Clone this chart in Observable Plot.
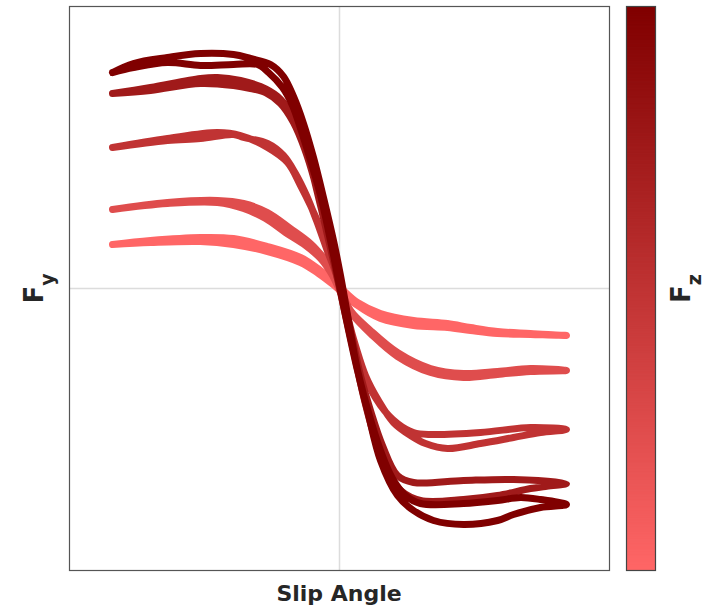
<!DOCTYPE html>
<html><head><meta charset="utf-8">
<script src="https://cdn.jsdelivr.net/npm/d3@7"></script>
<script src="https://cdn.jsdelivr.net/npm/@observablehq/plot@0.6"></script>
<style>
body{margin:0;background:#fff}
#wrap{position:relative;width:705px;height:611px}
#wrap svg{position:absolute;top:0}
</style>
</head><body><div id="wrap"></div>
<script>
// Vertical loads (N) and the hysteresis loop of each: slip angle (deg) and lateral force (N)
const loads = [2000, 4000, 6000, 8000, 10000];

const slip2000 = [-11.35,-9.45,-6.95,-5.3,-3.6,-1.95,-0.95,-0.3,0.2,0.9,2.05,3.7,5.4,6.55,7.9,9.55,11.35,
  9.55,7.9,6.55,5.4,3.7,2.05,0.9,0.2,-0.45,-1.05,-1.95,-3.6,-5.3,-6.95,-9.45,-11.35];
const fy2000 = [880,960,1020,1000,840,620,360,160,-40,-280,-500,-640,-700,-780,-860,-900,-940,
  -920,-900,-840,-780,-740,-600,-340,-100,120,300,520,740,880,940,920,880];

const slip4000 = [-11.35,-8.6,-6.1,-4.8,-3.6,-2.45,-1.45,-0.8,-0.3,0.05,0.55,1.55,2.9,4.55,6.2,7.9,9.55,11.35,
  9.55,7.9,6.2,4.55,2.9,1.65,0.65,0.05,-0.35,-0.95,-1.7,-2.7,-3.7,-4.8,-6.1,-8.6,-11.35];
const fy4000 = [1580,1720,1760,1700,1520,1200,900,620,360,0,-440,-840,-1280,-1600,-1700,-1660,-1600,-1640,
  -1660,-1720,-1780,-1680,-1360,-940,-520,-80,260,600,860,1120,1400,1600,1720,1700,1580];

const slip6000 = [-11.35,-8.6,-6.1,-4.95,-3.6,-2.6,-1.95,-1.45,-0.95,-0.45,0.05,0.65,1.2,2.05,2.9,3.7,4.55,7.05,9.55,11.35,
  10.05,8.7,7.05,5.4,4.3,3.55,2.7,1.95,1.3,0.8,0.3,-0.15,-0.65,-1.15,-1.65,-2.2,-2.8,-3.6,-4.8,-5.3,-6.95,-8.6,-11.35];
const fy6000 = [2820,3000,3120,3060,2820,2520,2060,1660,1200,660,0,-940,-1700,-2340,-2700,-2880,-2920,-2880,-2780,-2820,
  -2880,-2980,-3100,-3200,-3100,-2940,-2680,-2240,-1740,-1140,-440,260,800,1360,1860,2300,2660,2900,3020,3080,3000,2960,2820];

const slip8000 = [-11.35,-9.45,-6.95,-6.1,-4.95,-3.95,-3.1,-2.45,-1.95,-1.45,-0.95,-0.45,0.05,0.55,1.05,1.55,2.15,2.9,3.7,6.2,8.7,11.35,
  10.3,9.55,7.9,6.2,4.05,3.05,2.35,1.8,1.25,0.75,0.25,-0.25,-0.75,-1.25,-1.75,-2.3,-2.95,-3.7,-4.45,-5.3,-6.95,-9.45,-11.35];
const fy8000 = [3900,4020,4200,4220,4160,4040,3840,3520,3060,2460,1660,860,0,-840,-1740,-2440,-3140,-3740,-3880,-3840,-3820,-3900,
  -3960,-4000,-4140,-4220,-4240,-4040,-3640,-3040,-2240,-1340,-440,460,1320,2160,2800,3320,3700,3920,4000,4060,4100,3960,3900];

const slip10000 = [-11.35,-10.3,-8.6,-6.95,-5.3,-4.45,-3.45,-2.8,-2.3,-1.8,-1.3,-0.8,-0.3,0.05,0.45,0.85,1.4,2.05,2.9,3.7,4.7,6.2,7.9,8.7,10.05,11.35,
  10.05,9.05,7.9,6.2,4.05,3.3,2.65,2.05,1.45,0.9,0.35,-0.05,-0.45,-0.95,-1.45,-1.95,-2.35,-2.85,-3.55,-4.1,-5.3,-6.95,-8.6,-10.3,-11.35];
const fy10000 = [4320,4500,4620,4700,4680,4600,4480,4240,3840,3300,2620,1820,960,260,-640,-1540,-2440,-3440,-4140,-4440,-4640,-4720,-4640,-4520,-4380,-4320,
  -4220,-4180,-4240,-4300,-4300,-4140,-3800,-3240,-2480,-1640,-640,160,960,1860,2560,3200,3660,4020,4320,4480,4480,4460,4520,4420,4320];

const slips = [slip2000, slip4000, slip6000, slip8000, slip10000];
const fys = [fy2000, fy4000, fy6000, fy8000, fy10000];

const rows = loads.flatMap((fz, k) => slips[k].map((s, i) => ({fz, slip: s, fy: fys[k][i]})));

const colorOpts = {type: "linear", domain: [2000, 10000], range: ["#ff6666", "#800000"]};

const W = 705, H = 611, ML = 69, MR = 96, MT = 6, MB = 41;

const main = Plot.plot({
  width: W, height: H, marginLeft: ML, marginRight: MR, marginTop: MT, marginBottom: MB,
  x: {domain: [-13.5, 13.5], axis: null},
  y: {domain: [-5640, 5640], axis: null},
  color: colorOpts,
  marks: [
    Plot.ruleX([0], {stroke: "#dcdcdc", strokeWidth: 1.5}),
    Plot.ruleY([0], {stroke: "#dcdcdc", strokeWidth: 1.5}),
    Plot.line(rows, {x: "slip", y: "fy", z: "fz", stroke: "fz", strokeWidth: 7,
      curve: "catmull-rom", strokeLinecap: "round", strokeLinejoin: "round"}),
    Plot.frame({stroke: "#555", strokeWidth: 1.2})
  ]
});
main.style.left = "0px";

const svg = d3.select(main);
const labColor = "#262626";
svg.append("text")
  .attr("x", ML + (W - ML - MR) / 2).attr("y", 601)
  .attr("text-anchor", "middle").attr("fill", labColor)
  .style("font", "bold 22px 'DejaVu Sans'")
  .text("Slip Angle");

const fyLab = svg.append("text")
  .attr("transform", "translate(43,288.5) rotate(-90)")
  .attr("text-anchor", "middle").attr("fill", labColor)
  .style("font", "bold 26px 'DejaVu Sans'");
fyLab.append("tspan").text("F");
fyLab.append("tspan").attr("dy", 11).style("font-size", "19px").text("y");

// colour bar
const step = 20;
const bands = d3.range(2000, 10000, step);
const bar = Plot.plot({
  width: 90, height: H, marginLeft: 11, marginRight: 50, marginTop: MT, marginBottom: MB,
  x: {domain: [0, 1], axis: null},
  y: {domain: [2000, 10000], axis: null},
  color: colorOpts,
  marks: [
    Plot.rect(bands, {x1: () => 0, x2: () => 1, y1: d => d, y2: d => Math.min(d + step * 2, 10000), fill: d => d + step / 2}),
    Plot.frame({stroke: "#444", strokeWidth: 1.2})
  ]
});
bar.style.left = "615px";
const fzLab = d3.select(bar).append("text")
  .attr("transform", "translate(75,288.5) rotate(-90)")
  .attr("text-anchor", "middle").attr("fill", labColor)
  .style("font", "bold 26px 'DejaVu Sans'");
fzLab.append("tspan").text("F");
fzLab.append("tspan").attr("dy", 11).style("font-size", "19px").text("z");

const wrap = document.getElementById("wrap");
wrap.appendChild(main);
wrap.appendChild(bar);
</script>
</body></html>
